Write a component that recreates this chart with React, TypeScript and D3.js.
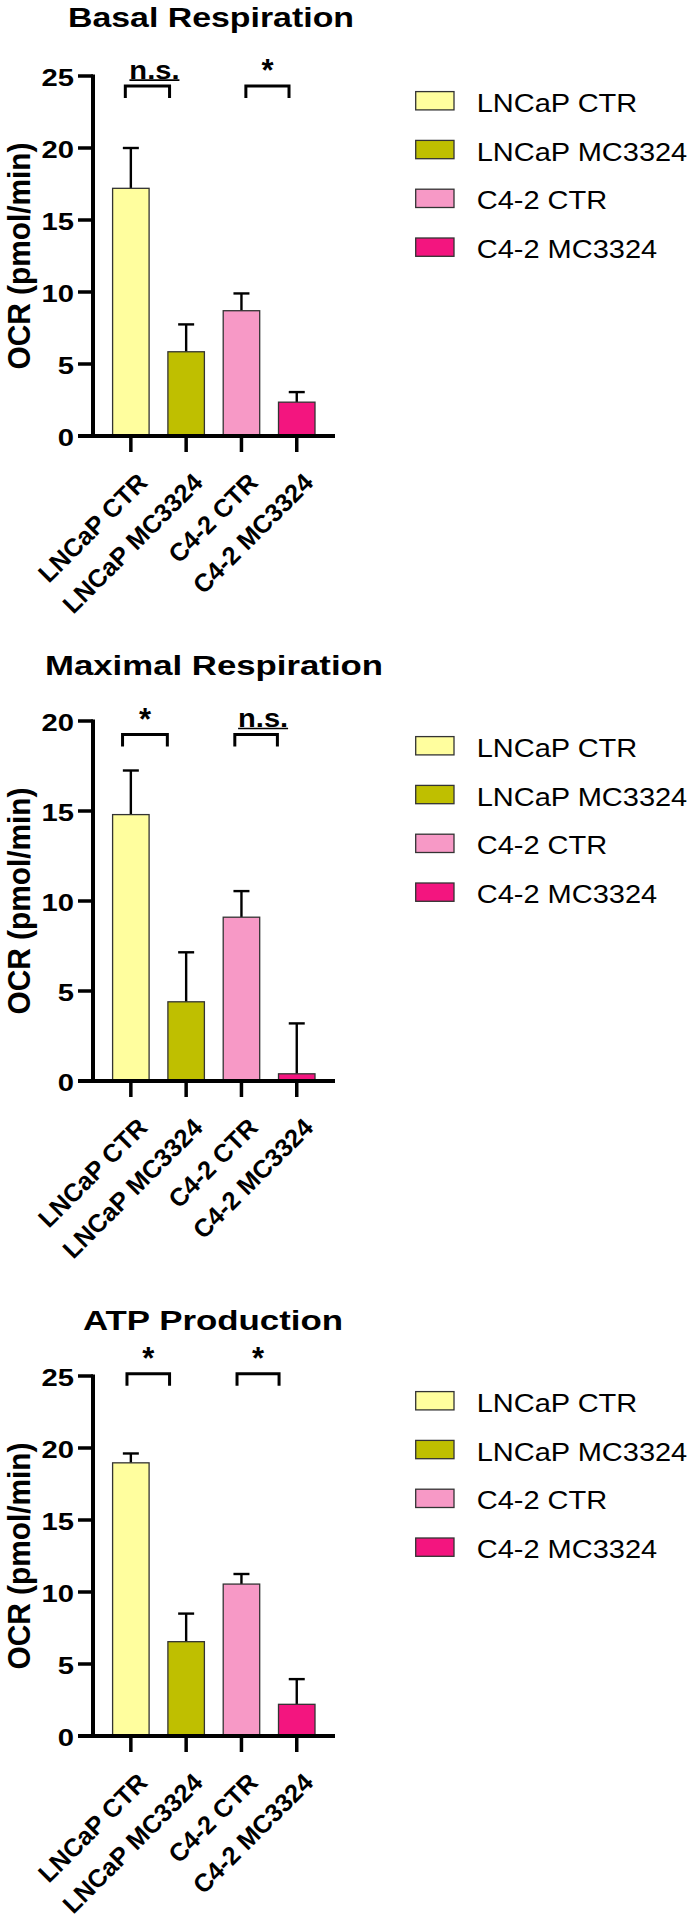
import React from 'react';
import * as d3 from 'd3';

const categories = ['LNCaP CTR', 'LNCaP MC3324', 'C4-2 CTR', 'C4-2 MC3324'];
const colors = ['#FFFE9E', '#BFBF00', '#F799C6', '#F3157F'];

const basalMean = [17.2, 5.85, 8.7, 2.35];
const basalErr = [2.8, 1.9, 1.2, 0.7];
const maximalMean = [14.8, 4.4, 9.1, 0.4];
const maximalErr = [2.45, 2.75, 1.45, 2.8];
const atpMean = [18.97, 6.55, 10.55, 2.2];
const atpErr = [0.65, 1.95, 0.7, 1.75];

const ticks25 = [0, 5, 10, 15, 20, 25];
const ticks20 = [0, 5, 10, 15, 20];

// brackets: from/to in bar-index units, at = value of the bracket top
const basalSig = [
  { from: -0.1, to: 0.7, at: 24.3, label: 'n.s.' },
  { from: 2.08, to: 2.86, at: 24.3, label: '*' },
];
const maximalSig = [
  { from: -0.15, to: 0.66, at: 19.25, label: '*' },
  { from: 1.88, to: 2.65, at: 19.25, label: 'n.s.' },
];
const atpSig = [
  { from: -0.07, to: 0.7, at: 25.15, label: '*' },
  { from: 1.92, to: 2.68, at: 25.15, label: '*' },
];

const panels = [
  { title: 'Basal Respiration', titleX: 211, titleY: 27, titleW: 286, mean: basalMean, err: basalErr, ticks: ticks25, sig: basalSig, offset: 0 },
  { title: 'Maximal Respiration', titleX: 214, titleY: 674.5, titleW: 338, mean: maximalMean, err: maximalErr, ticks: ticks20, sig: maximalSig, offset: 645 },
  { title: 'ATP Production', titleX: 213, titleY: 1329.5, titleW: 260, mean: atpMean, err: atpErr, ticks: ticks25, sig: atpSig, offset: 1300 },
];

const W = 689;
const H = 1926;
const FONT = '"Liberation Sans", Arial, sans-serif';
const plotTop = 76;
const plotBottom = 436;
const axisX = 93;
const axisRight = 335;

const xScale = d3.scaleBand<string>()
  .domain(categories)
  .range([112.6, 315])
  .paddingInner(0.34)
  .paddingOuter(0);

const bw = xScale.bandwidth();
const step = xScale.step();
const center = (i: number) => (xScale(categories[0]) as number) + bw / 2 + i * step;

const SText = ({ x, y, sx = 1, anchor = 'start', size, weight = 'normal', children }: any) => (
  <text
    transform={`translate(${x},${y}) scale(${sx},1)`}
    textAnchor={anchor}
    fontSize={size}
    fontWeight={weight}
    fontFamily={FONT}
    fill="#000"
  >
    {children}
  </text>
);

const Panel = ({ title, titleX, titleY, titleW, mean, err, ticks, sig, offset }: any) => {
  const yMax = ticks[ticks.length - 1];
  const y = d3.scaleLinear().domain([0, yMax]).range([plotBottom + offset, plotTop + offset]);
  const y0 = y(0);
  return (
    <g>
      <text
        x={titleX - titleW / 2}
        y={titleY}
        textLength={titleW}
        lengthAdjust="spacingAndGlyphs"
        fontSize={27}
        fontWeight="bold"
        fontFamily={FONT}
      >
        {title}
      </text>

      {/* y axis label */}
      <text
        transform={`translate(29.5,${(y(0) + y(yMax)) / 2}) rotate(-90)`}
        x={-113.5}
        textLength={227}
        lengthAdjust="spacingAndGlyphs"
        fontSize={31}
        fontWeight="bold"
        fontFamily={FONT}
      >
        OCR (pmol/min)
      </text>

      {/* bars */}
      {categories.map((c, i) => (
        <g key={c}>
          <line x1={center(i)} x2={center(i)} y1={y(mean[i])} y2={y(mean[i] + err[i])} stroke="#000" strokeWidth={2.4} />
          <line x1={center(i) - 8} x2={center(i) + 8} y1={y(mean[i] + err[i])} y2={y(mean[i] + err[i])} stroke="#000" strokeWidth={2.4} />
          <rect
            x={xScale(c)}
            y={y(mean[i])}
            width={bw}
            height={y0 - y(mean[i])}
            fill={colors[i]}
            stroke="#333"
            strokeWidth={1.3}
          />
        </g>
      ))}

      {/* y axis */}
      <line x1={axisX} x2={axisX} y1={y(yMax) - 1.5} y2={y0} stroke="#000" strokeWidth={4} />
      {ticks.map((t: number) => (
        <g key={t}>
          <line x1={78} x2={axisX} y1={y(t)} y2={y(t)} stroke="#000" strokeWidth={3.5} />
          <SText x={74} y={y(t) + 9.5} sx={1.27} anchor="end" size={23} weight="bold">{t}</SText>
        </g>
      ))}

      {/* x axis */}
      <line x1={78} x2={axisRight} y1={y0} y2={y0} stroke="#000" strokeWidth={4} />
      {categories.map((c, i) => (
        <g key={c}>
          <line x1={center(i)} x2={center(i)} y1={y0} y2={y0 + 16} stroke="#000" strokeWidth={3.5} />
          <text
            transform={`translate(${center(i) + 18},${y0 + 48}) rotate(-45)`}
            textAnchor="end"
            fontSize={25.3}
            fontWeight="bold"
            fontFamily={FONT}
          >
            {c}
          </text>
        </g>
      ))}

      {/* significance brackets */}
      {sig.map((s: any, k: number) => {
        const xa = center(s.from);
        const xb = center(s.to);
        const yb = y(s.at);
        const mid = (xa + xb) / 2;
        return (
          <g key={k}>
            <path
              d={`M${xa},${yb + 12}V${yb}H${xb}V${yb + 12}`}
              fill="none"
              stroke="#000"
              strokeWidth={3}
            />
            {s.label === '*' ? (
              <SText x={mid} y={yb - 5} anchor="middle" size={31} weight="bold">*</SText>
            ) : (
              <g>
                <SText x={mid + 7} y={yb - 7.5} sx={1.12} anchor="middle" size={26} weight="bold">{s.label}</SText>
                <line x1={mid + 7 - 25} x2={mid + 7 + 25} y1={yb - 6} y2={yb - 6} stroke="#000" strokeWidth={1.6} />
              </g>
            )}
          </g>
        );
      })}

      {/* legend */}
      {categories.map((c, i) => {
        const cy = offset + 100.8 + i * 48.8;
        return (
          <g key={c}>
            <rect x={415.7} y={cy - 9.2} width={38.3} height={18.3} fill={colors[i]} stroke="#333" strokeWidth={1.3} />
            <SText x={476.7} y={cy + 11} sx={1.16} size={25}>{c}</SText>
          </g>
        );
      })}
    </g>
  );
};

const App = () => (
  <svg
    width={W}
    height={H}
    style={{ position: 'absolute', left: 0, top: 0, background: '#fff' }}
  >
    <rect width={W} height={H} fill="#fff" />
    {panels.map((p) => (
      <Panel key={p.title} {...p} />
    ))}
  </svg>
);

export default App;
